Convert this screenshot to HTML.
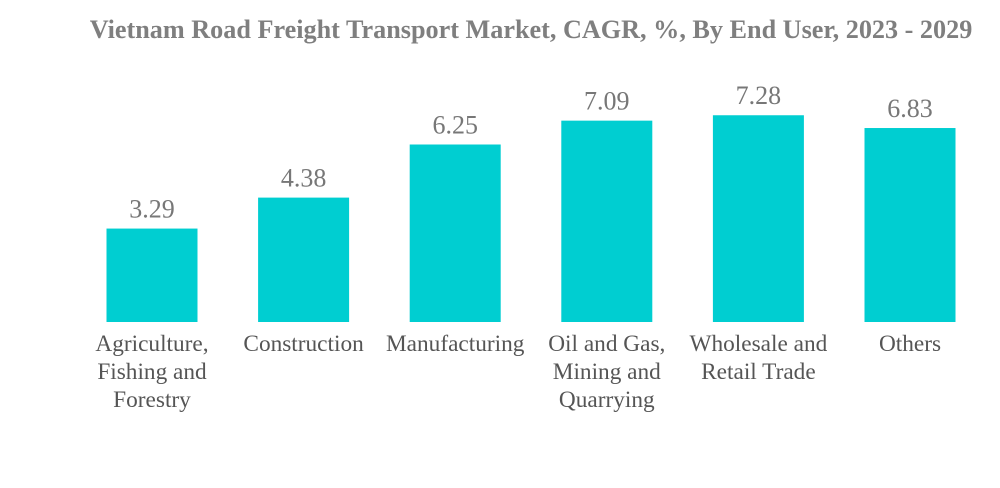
<!DOCTYPE html>
<html><head><meta charset="utf-8"><style>
body{margin:0;background:#fff;width:1000px;height:483px;overflow:hidden}
svg text{font-family:"Liberation Serif",serif}
</style></head><body>
<svg id="chart" width="1000" height="483">
<text x="531" y="38" text-anchor="middle" font-size="26.2" font-weight="bold" fill="#7f7f7f">Vietnam Road Freight Transport Market, CAGR, %, By End User, 2023 - 2029</text>
<g id="bars"></g>
</svg>
<script>
const categories=[["Agriculture,","Fishing and","Forestry"],["Construction"],["Manufacturing"],["Oil and Gas,","Mining and","Quarrying"],["Wholesale and","Retail Trade"],["Others"]];
const values=[3.29,4.38,6.25,7.09,7.28,6.83];
const labels=["3.29","4.38","6.25","7.09","7.28","6.83"];
const base=322, scale=28.4, x0=152, step=151.6, bw=91;
const xPos=i=>x0+i*step;
const yPos=v=>base-v*scale;
const g=document.getElementById('bars');
const ns='http://www.w3.org/2000/svg';
values.forEach((v,i)=>{
  const r=document.createElementNS(ns,'rect');
  r.setAttribute('x',xPos(i)-bw/2);r.setAttribute('y',yPos(v));
  r.setAttribute('width',bw);r.setAttribute('height',base-yPos(v));
  r.setAttribute('fill','#00ced1');
  
  
  g.appendChild(r);
  const t=document.createElementNS(ns,'text');
  t.setAttribute('x',xPos(i));t.setAttribute('y',yPos(v)-11);
  t.setAttribute('text-anchor','middle');t.setAttribute('font-size','26');t.setAttribute('fill','#777');
  t.textContent=labels[i];
  
  
  g.appendChild(t);
  categories[i].forEach((line,j)=>{
    const c=document.createElementNS(ns,'text');
    c.setAttribute('x',xPos(i));c.setAttribute('y',351+j*28);
    c.setAttribute('text-anchor','middle');c.setAttribute('font-size','23.3');c.setAttribute('fill','#555');
    c.textContent=line;
    
    
    g.appendChild(c);
  });
});
</script>
</body></html>
